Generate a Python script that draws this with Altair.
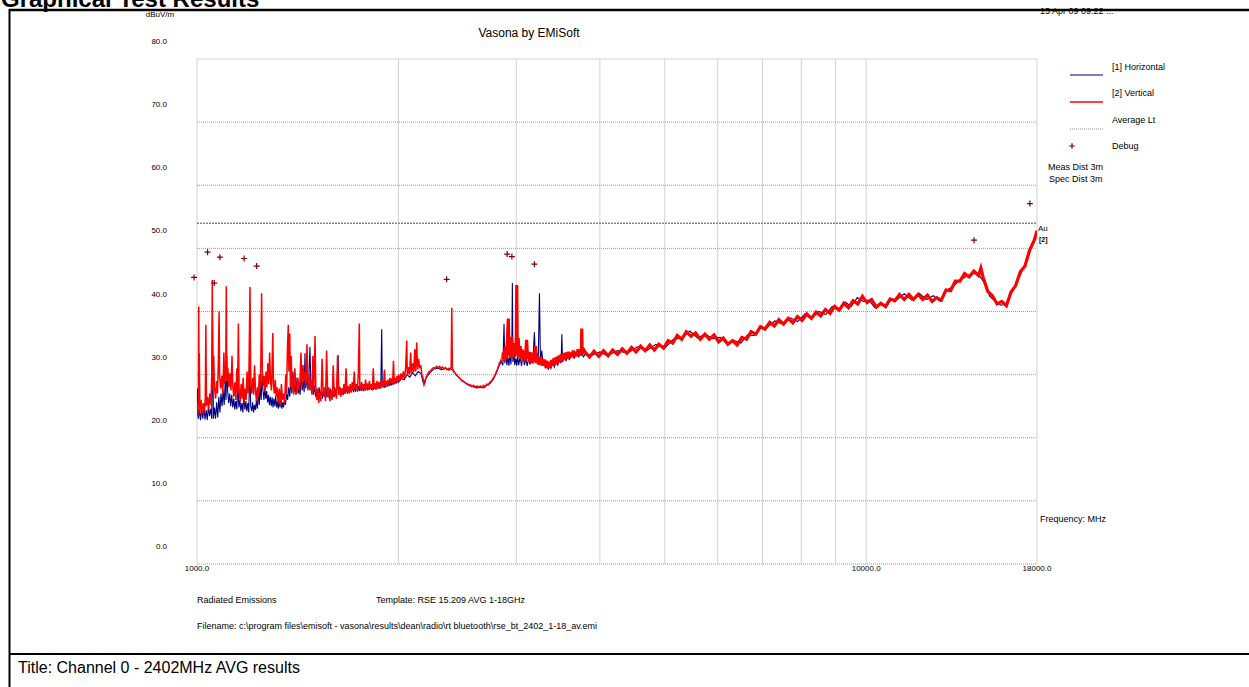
import altair as alt
import pandas as pd

# ---------------------------------------------------------------------------
# Radiated emission scan, levels in dBuV/m against frequency in MHz
# ---------------------------------------------------------------------------

# [1] Horizontal polarisation
horizontal_1_2ghz = [
    (1000, 25.0), (1002, 27.8), (1004, 23.0), (1008, 24.5), (1012, 22.8), (1016, 24.6),
    (1020, 23.0), (1024, 24.8), (1028, 22.9), (1032, 24.4), (1036, 22.8), (1040, 25.0),
    (1044, 23.4), (1048, 24.6), (1052, 23.0), (1055, 38.5), (1058, 23.0), (1062, 24.8),
    (1066, 23.0), (1070, 25.6), (1074, 23.2), (1078, 26.5), (1082, 24.0), (1086, 27.0),
    (1090, 25.0), (1094, 27.5), (1098, 25.2), (1102, 29.0), (1105, 26.0), (1108, 33.0),
    (1111, 27.5), (1115, 25.5), (1119, 27.0), (1123, 25.0), (1127, 26.8), (1131, 24.8),
    (1135, 26.2), (1139, 24.5), (1143, 25.8), (1147, 24.5), (1151, 28.5), (1155, 24.8),
    (1159, 26.0), (1163, 24.2), (1167, 25.5), (1171, 24.0), (1175, 27.0), (1179, 24.5),
    (1183, 25.8), (1187, 24.2), (1191, 25.5), (1195, 24.0), (1199, 31.5), (1203, 25.0),
    (1207, 24.2), (1211, 25.6), (1215, 24.0), (1219, 25.2), (1223, 24.4), (1227, 26.0),
    (1231, 24.6), (1235, 27.5), (1239, 25.2), (1243, 28.5), (1247, 26.0), (1251, 30.0),
    (1255, 27.5), (1259, 26.0), (1263, 28.0), (1267, 26.2), (1271, 27.4), (1275, 25.6),
    (1279, 26.8), (1283, 25.2), (1287, 26.5), (1291, 25.0), (1295, 26.4), (1299, 24.8),
    (1303, 26.2), (1307, 25.0), (1311, 26.6), (1315, 24.8), (1319, 25.8), (1323, 24.6),
    (1327, 26.0), (1331, 24.8), (1335, 26.4), (1339, 24.6), (1343, 25.6), (1347, 24.8),
    (1351, 26.0), (1356, 25.2), (1361, 27.0), (1366, 26.0), (1371, 28.0), (1376, 26.5),
    (1381, 29.0), (1386, 27.0), (1391, 30.5), (1396, 27.2), (1401, 28.5), (1406, 26.8),
    (1411, 29.5), (1416, 27.0), (1421, 28.0), (1426, 26.8), (1431, 30.5), (1436, 27.5),
    (1441, 29.0), (1446, 27.2), (1450, 33.4), (1454, 27.8), (1460, 29.5), (1465, 27.5),
    (1470, 30.0), (1475, 34.4), (1480, 27.8), (1486, 29.0), (1492, 26.8), (1498, 28.2),
    (1504, 26.5), (1510, 27.8), (1516, 26.2), (1522, 28.0), (1528, 26.5), (1534, 27.6),
    (1540, 26.2), (1546, 27.8), (1552, 26.5), (1558, 28.0), (1564, 26.4), (1570, 27.5),
    (1576, 26.2), (1582, 27.8), (1588, 26.4), (1594, 27.5), (1600, 26.5), (1606, 28.0),
    (1612, 26.6), (1618, 27.8), (1625, 33.1), (1630, 27.0), (1636, 28.0), (1642, 26.8),
    (1648, 27.8), (1654, 26.8), (1660, 28.0), (1666, 27.0), (1672, 28.2), (1678, 27.0),
    (1684, 28.0), (1690, 27.2), (1696, 28.2), (1702, 27.2), (1708, 28.4), (1714, 27.2),
    (1720, 28.0), (1726, 27.3), (1732, 28.4), (1738, 27.3), (1744, 28.2), (1750, 27.4),
    (1756, 28.4), (1762, 27.4), (1768, 28.2), (1774, 27.4), (1780, 28.3), (1786, 27.5),
    (1792, 28.4), (1798, 27.5), (1804, 28.2), (1810, 27.6), (1816, 28.5), (1822, 27.6),
    (1828, 28.3), (1834, 27.6), (1840, 28.4), (1846, 27.7), (1852, 28.6), (1858, 27.8),
    (1864, 28.4), (1870, 27.8), (1876, 28.5), (1882, 27.8), (1888, 37.2), (1892, 28.0),
    (1898, 28.6), (1904, 27.9), (1910, 28.6), (1916, 28.0), (1922, 28.8), (1928, 28.1),
    (1934, 28.9), (1940, 28.2), (1946, 28.9), (1952, 28.3), (1958, 29.0), (1964, 28.4),
    (1970, 29.1), (1976, 28.5), (1982, 29.2), (1988, 28.6), (1994, 29.3),
]
horizontal_2_4ghz = [
    (2000, 28.8), (2020, 29.4), (2040, 29.2), (2060, 30.0), (2080, 29.6), (2100, 30.3),
    (2120, 29.8), (2140, 30.5), (2160, 30.2), (2180, 28.6), (2200, 29.5), (2230, 30.3),
    (2260, 30.9), (2290, 31.0), (2320, 30.8), (2350, 31.0), (2380, 30.7), (2410, 30.9),
    (2440, 29.9), (2470, 29.4), (2500, 28.9), (2530, 28.5), (2560, 28.2), (2590, 28.1),
    (2620, 27.9), (2650, 28.0), (2680, 27.9), (2710, 28.3), (2740, 28.6), (2770, 29.2),
    (2800, 30.2), (2830, 31.5), (2850, 32.0), (2865, 31.5), (2876, 38.0), (2884, 31.8),
    (2895, 33.0), (2905, 31.5), (2915, 32.8), (2925, 31.4), (2935, 33.5), (2945, 31.6),
    (2955, 35.0), (2960, 44.5), (2965, 32.0), (2975, 33.5), (2985, 31.5), (2995, 32.6),
    (3005, 31.4), (3015, 33.0), (3025, 31.5), (3040, 32.8), (3055, 31.4), (3070, 33.2),
    (3085, 31.5), (3100, 32.5), (3115, 31.4), (3130, 32.6), (3145, 31.6), (3160, 33.0),
    (3175, 31.8), (3193, 36.7), (3205, 32.0), (3220, 33.5), (3235, 31.8), (3249, 42.9),
    (3260, 32.2), (3275, 33.8), (3290, 31.4), (3305, 32.0), (3320, 31.0), (3335, 31.8),
    (3350, 30.8), (3365, 31.6), (3380, 31.0), (3400, 32.0), (3420, 31.2), (3440, 32.2),
    (3460, 31.5), (3480, 32.4), (3500, 31.8), (3509, 36.4), (3518, 32.0), (3540, 32.8),
    (3560, 32.2), (3580, 33.0), (3600, 32.4), (3630, 33.2), (3660, 32.6), (3690, 33.4),
    (3720, 32.8), (3750, 33.5), (3780, 32.8),
]
horizontal_4_18ghz = [
    (3800, 33.2), (3900, 33.1), (4000, 33.6), (4100, 33.0), (4250, 33.8), (4400, 33.4),
    (4550, 34.4), (4700, 33.8), (4850, 34.8), (5000, 34.2), (5150, 35.6), (5300, 35.8),
    (5450, 36.9), (5600, 35.8), (5750, 36.4), (5900, 35.7), (6050, 35.9), (6200, 34.8),
    (6350, 35.4), (6500, 35.0), (6650, 36.3), (6800, 36.2), (6950, 37.6), (7100, 37.4),
    (7300, 38.5), (7500, 38.0), (7700, 39.0), (7900, 38.4), (8100, 39.6), (8300, 39.0),
    (8500, 40.0), (8700, 39.5), (8900, 40.8), (9100, 40.2), (9300, 41.5), (9500, 40.8),
    (9700, 42.2), (9900, 41.6), (10100, 41.8), (10300, 40.6), (10500, 41.2), (10700, 40.6),
    (10900, 42.0), (11100, 41.8), (11400, 42.8), (11700, 41.8), (12000, 42.9), (12300, 41.9),
    (12600, 42.5), (12900, 41.6), (13200, 43.4), (13500, 44.0), (13800, 45.0), (14100, 45.5),
    (14400, 46.0), (14700, 46.0), (15000, 44.6), (15300, 42.4), (15600, 41.6), (15900, 41.0),
    (16200, 41.2), (16500, 43.0), (16800, 44.6), (17100, 46.4), (17400, 48.2), (17700, 50.5),
    (18000, 52.6),
]

# [2] Vertical polarisation
vertical_1_2ghz = [
    (1000, 25.5), (1003, 23.5), (1005, 27.0), (1006, 40.8), (1007, 25.0), (1008, 33.4),
    (1010, 24.0), (1014, 26.0), (1018, 23.8), (1022, 25.5), (1026, 24.0), (1029, 26.5),
    (1031, 37.9), (1033, 25.0), (1037, 26.5), (1041, 24.5), (1045, 27.0), (1049, 25.2),
    (1052, 30.0), (1054, 45.0), (1056, 27.5), (1059, 33.0), (1062, 28.0), (1066, 26.2),
    (1070, 29.0), (1073, 27.0), (1076, 31.5), (1079, 40.0), (1081, 29.5), (1085, 27.8),
    (1089, 29.8), (1093, 27.0), (1097, 33.5), (1100, 28.5), (1104, 30.5), (1106, 44.0),
    (1108, 29.0), (1112, 31.0), (1116, 28.0), (1120, 30.2), (1124, 27.5), (1128, 33.0),
    (1131, 28.2), (1135, 26.5), (1139, 28.8), (1143, 26.0), (1147, 31.0), (1150, 27.2),
    (1153, 38.1), (1156, 27.5), (1160, 25.8), (1164, 28.5), (1168, 26.2), (1172, 29.5),
    (1176, 25.5), (1180, 27.8), (1184, 26.0), (1188, 30.5), (1192, 27.0), (1196, 31.0),
    (1200, 43.9), (1203, 28.5), (1207, 27.0), (1211, 29.5), (1215, 26.8), (1219, 31.5),
    (1223, 27.5), (1227, 25.8), (1231, 28.0), (1235, 26.5), (1239, 30.0), (1243, 27.8),
    (1246, 33.0), (1249, 42.9), (1252, 30.5), (1256, 28.2), (1260, 29.8), (1264, 27.2),
    (1268, 30.5), (1272, 28.0), (1276, 31.8), (1280, 28.5), (1284, 33.5), (1288, 29.0),
    (1292, 27.5), (1295, 31.0), (1298, 36.6), (1301, 28.5), (1305, 27.0), (1309, 29.2),
    (1313, 26.5), (1317, 28.0), (1322, 25.5), (1327, 27.8), (1332, 25.2), (1337, 28.5),
    (1342, 26.0), (1347, 27.0), (1352, 25.5), (1357, 30.0), (1361, 27.0), (1365, 34.0),
    (1369, 37.9), (1372, 30.5), (1376, 36.5), (1379, 28.0), (1383, 33.0), (1387, 27.5),
    (1391, 29.5), (1395, 26.8), (1400, 31.0), (1405, 28.5), (1410, 27.0), (1415, 29.5),
    (1420, 27.5), (1425, 28.8), (1430, 33.5), (1435, 28.0), (1440, 31.5), (1445, 29.0),
    (1450, 30.5), (1455, 28.5), (1460, 34.8), (1465, 28.0), (1470, 30.0), (1475, 27.5),
    (1480, 29.2), (1485, 26.8), (1490, 33.0), (1495, 27.5), (1501, 36.1), (1505, 28.0),
    (1510, 26.0), (1515, 27.8), (1520, 25.5), (1526, 27.2), (1532, 25.8), (1538, 32.5),
    (1544, 26.5), (1550, 28.0), (1556, 25.8), (1562, 33.8), (1568, 26.5), (1574, 28.0),
    (1580, 25.8), (1586, 27.5), (1592, 26.0), (1598, 31.5), (1604, 26.5), (1610, 27.8),
    (1616, 26.2), (1622, 33.0), (1628, 26.8), (1634, 28.0), (1640, 26.5), (1646, 27.8),
    (1652, 26.8), (1658, 28.5), (1664, 27.0), (1670, 31.0), (1676, 27.2), (1682, 28.2),
    (1688, 27.0), (1694, 28.5), (1700, 27.2), (1706, 28.8), (1712, 27.5), (1718, 30.5),
    (1724, 27.5), (1730, 28.5), (1736, 27.4), (1742, 30.0), (1748, 38.1), (1751, 28.0),
    (1756, 27.5), (1762, 28.8), (1768, 27.6), (1774, 28.5), (1780, 27.5), (1786, 29.2),
    (1792, 27.8), (1798, 28.6), (1804, 27.6), (1810, 29.0), (1816, 27.8), (1822, 28.5),
    (1828, 27.5), (1834, 31.0), (1840, 27.8), (1846, 28.6), (1852, 27.6), (1858, 29.0),
    (1864, 27.8), (1870, 28.8), (1876, 27.8), (1882, 29.2), (1888, 28.0), (1894, 28.8),
    (1900, 28.2), (1906, 30.8), (1912, 28.0), (1918, 29.0), (1924, 28.2), (1930, 29.2),
    (1936, 28.4), (1942, 29.5), (1948, 28.6), (1954, 29.4), (1960, 28.4), (1966, 32.2),
    (1972, 28.6), (1978, 29.5), (1984, 28.8), (1990, 29.8), (1996, 28.8),
]
vertical_2_3ghz = [
    (2002, 30.0), (2010, 29.0), (2018, 30.2), (2026, 29.2), (2034, 30.5), (2042, 29.4),
    (2050, 31.0), (2058, 35.4), (2062, 29.8), (2070, 31.2), (2078, 30.0), (2086, 33.5),
    (2092, 30.2), (2100, 31.8), (2108, 30.4), (2116, 34.0), (2122, 30.5), (2130, 35.1),
    (2136, 30.8), (2144, 32.5), (2152, 31.0), (2160, 31.5), (2168, 30.0), (2176, 29.5),
    (2184, 28.4), (2192, 28.8), (2200, 29.6), (2210, 30.0), (2220, 30.4), (2232, 30.6),
    (2244, 30.9), (2256, 31.1), (2268, 31.0), (2280, 31.3), (2292, 31.1), (2304, 31.3),
    (2316, 31.0), (2328, 31.2), (2340, 30.9), (2352, 31.1), (2364, 30.8), (2376, 31.0),
    (2388, 30.9), (2398, 31.2), (2403, 40.6), (2408, 31.0), (2416, 30.5), (2428, 30.3),
    (2440, 30.0), (2452, 29.8), (2464, 29.5), (2476, 29.3), (2488, 29.0), (2500, 29.0),
    (2512, 28.8), (2524, 28.6), (2536, 28.6), (2548, 28.3), (2560, 28.4), (2575, 28.1),
    (2590, 28.3), (2605, 28.0), (2620, 28.2), (2635, 28.0), (2650, 28.2), (2665, 28.0),
    (2680, 28.3), (2695, 28.1), (2710, 28.5), (2725, 28.4), (2740, 28.8), (2755, 29.0),
    (2770, 29.4), (2785, 29.8), (2800, 30.4), (2815, 31.0), (2830, 31.8), (2845, 32.3),
    (2860, 32.0),
]
vertical_3_4ghz = [
    (2862, 32.4), (2870, 33.5), (2880, 32.2), (2890, 34.5), (2900, 32.5), (2910, 35.5),
    (2919, 38.9), (2926, 33.0), (2935, 34.8), (2944, 32.6), (2952, 36.0), (2960, 33.2),
    (2970, 35.0), (2980, 32.8), (2990, 34.2), (2998, 33.0), (3005, 44.2), (3010, 33.5),
    (3020, 35.8), (3030, 32.8), (3040, 34.5), (3050, 32.5), (3060, 34.0), (3072, 32.4),
    (3084, 33.8), (3096, 32.2), (3108, 35.5), (3120, 32.5), (3132, 33.6), (3144, 32.0),
    (3156, 33.5), (3168, 31.8), (3180, 33.2), (3192, 32.0), (3204, 34.5), (3216, 31.8),
    (3228, 33.0), (3240, 31.6), (3252, 32.8), (3264, 31.5), (3276, 32.6), (3290, 31.4),
    (3304, 32.4), (3318, 31.2), (3332, 32.2), (3346, 31.0), (3360, 32.0), (3374, 31.2),
    (3388, 32.3), (3402, 31.4), (3416, 32.6), (3430, 31.6), (3444, 32.8), (3458, 31.8),
    (3472, 33.0), (3486, 32.0), (3500, 33.2), (3515, 32.2), (3530, 33.4), (3545, 32.4),
    (3560, 33.5), (3575, 32.5), (3590, 33.6), (3605, 32.6), (3620, 33.5), (3635, 32.8),
    (3650, 33.8), (3665, 32.8), (3680, 33.6), (3695, 32.9), (3710, 34.0), (3725, 33.0),
    (3740, 33.8), (3752, 33.0), (3758, 37.3), (3764, 33.2), (3780, 34.0),
]
vertical_4_18ghz = [
    (3800, 33.6), (3860, 32.8), (3920, 33.7), (3985, 32.9), (4050, 33.8), (4115, 33.0),
    (4180, 33.9), (4250, 33.2), (4320, 34.1), (4390, 33.4), (4460, 34.3), (4530, 33.6),
    (4600, 34.5), (4675, 33.8), (4750, 34.7), (4825, 33.9), (4900, 34.8), (4980, 34.2),
    (5060, 35.4), (5140, 35.0), (5220, 36.2), (5300, 35.6), (5385, 36.8), (5470, 36.1),
    (5560, 36.6), (5650, 35.6), (5740, 36.4), (5830, 35.6), (5925, 36.3), (6020, 35.2),
    (6115, 35.8), (6215, 34.8), (6315, 35.4), (6415, 34.7), (6520, 35.9), (6625, 35.6),
    (6730, 36.8), (6840, 36.4), (6950, 37.6), (7060, 37.2), (7175, 38.3), (7290, 37.7),
    (7405, 38.7), (7525, 38.0), (7645, 38.9), (7770, 38.2), (7895, 39.2), (8020, 38.6),
    (8150, 39.6), (8280, 38.9), (8415, 39.9), (8550, 39.3), (8690, 40.3), (8830, 39.7),
    (8970, 40.8), (9115, 40.2), (9260, 41.3), (9410, 40.6), (9560, 41.7), (9715, 41.2),
    (9870, 42.4), (10030, 41.4), (10190, 41.9), (10355, 40.7), (10520, 41.3), (10690, 40.8),
    (10860, 42.0), (11035, 41.7), (11215, 42.7), (11395, 41.9), (11580, 42.7), (11765, 41.9),
    (11955, 42.7), (12150, 41.9), (12345, 42.6), (12545, 41.6), (12745, 42.2), (12950, 41.8),
    (13160, 43.4), (13370, 43.3), (13585, 44.8), (13805, 44.8), (14030, 46.0), (14255, 45.5),
    (14485, 46.4), (14720, 45.7), (14840, 46.9), (14955, 45.4), (15195, 43.2), (15440, 42.5),
    (15690, 41.2), (15945, 41.6), (16200, 40.9), (16460, 43.1), (16725, 44.1), (16995, 46.3),
    (17270, 47.2), (17545, 49.7), (17830, 51.3), (18000, 52.8),
]

# Debug markers (peak search results)
debug_freq = [990, 1037, 1061, 1082, 1176, 1228, 2361, 2907, 2955, 3193, 14495, 17565]
debug_level = [45.4, 49.4, 44.5, 48.6, 48.4, 47.2, 45.1, 49.1, 48.7, 47.5, 51.3, 57.1]

# Average limit line
average_limit = 54.0

# Grid and tick positions
freq_grid = [1000, 2000, 3000, 4000, 5000, 6000, 7000, 8000, 9000, 10000, 18000]
level_grid = [0, 10, 20, 30, 40, 50, 60, 70]
level_labels = [0, 10, 20, 30, 40, 50, 60, 70, 80]
freq_labels = [1000, 10000, 18000]

# ---------------------------------------------------------------------------
FONT = "Liberation Sans"
LEFT, TOP, W, H = 197, 59, 840, 505
NAVY = "#000080"
RED = "#ff0000"
DEBUG = "#800000"

x_scale = alt.Scale(type="log", domain=[1000, 18000], nice=False)
y_scale = alt.Scale(domain=[0, 80], nice=False, zero=False)


def X(field="freq"):
    return alt.X(f"{field}:Q", scale=x_scale, axis=None)


def Y(field="level"):
    return alt.Y(f"{field}:Q", scale=y_scale, axis=None)


def trace(*segments):
    rows = [pt for seg in segments for pt in seg]
    return pd.DataFrame(rows, columns=["freq", "level"])


one = pd.DataFrame({"k": [0]})


def note(text, px, py, size=9, align="left", weight="normal", baseline="middle"):
    return alt.Chart(one).mark_text(
        text=text, align=align, baseline=baseline, fontSize=size,
        fontWeight=weight, font=FONT, color="black",
    ).encode(x=alt.value(px - LEFT), y=alt.value(py - TOP))


def hline(px1, px2, py, color, width, dash=None):
    kw = dict(color=color, strokeWidth=width)
    if dash:
        kw["strokeDash"] = dash
    return alt.Chart(one).mark_rule(**kw).encode(
        x=alt.value(px1 - LEFT), x2=alt.value(px2 - LEFT), y=alt.value(py - TOP)
    )


def vline(px, py1, py2, color, width):
    return alt.Chart(one).mark_rule(color=color, strokeWidth=width).encode(
        x=alt.value(px - LEFT), y=alt.value(py1 - TOP), y2=alt.value(py2 - TOP)
    )


plus_shape = "M-1,0L1,0M0,-1L0,1"

# grid
v_grid = alt.Chart(pd.DataFrame({"freq": freq_grid})).mark_rule(
    color="#d2d2d2", strokeWidth=1
).encode(x=X(), y=alt.value(0), y2=alt.value(H))

h_grid = alt.Chart(pd.DataFrame({"level": level_grid})).mark_rule(
    color="#9a9a9a", strokeWidth=1, strokeDash=[1, 1]
).encode(y=Y(), x=alt.value(0), x2=alt.value(W))

top_frame = alt.Chart(pd.DataFrame({"level": [80]})).mark_rule(
    color="#d2d2d2", strokeWidth=1
).encode(y=Y(), x=alt.value(0), x2=alt.value(W))

limit = alt.Chart(pd.DataFrame({"level": [average_limit]})).mark_rule(
    color="#858585", strokeWidth=1.5, strokeDash=[2, 1]
).encode(y=Y(), x=alt.value(0), x2=alt.value(W))

# axis labels
y_labels = alt.Chart(pd.DataFrame({"level": level_labels})).transform_calculate(
    lbl="format(datum.level, '.1f')"
).mark_text(align="right", baseline="middle", dy=-17, fontSize=8, font=FONT, color="black").encode(
    y=Y(), x=alt.value(-30), text="lbl:N"
)

x_labels = alt.Chart(pd.DataFrame({"freq": freq_labels})).transform_calculate(
    lbl="format(datum.freq, '.1f')"
).mark_text(align="center", baseline="middle", fontSize=8, font=FONT, color="black").encode(
    x=X(), y=alt.value(569 - TOP), text="lbl:N"
)

# traces
horizontal = alt.Chart(trace(horizontal_1_2ghz, horizontal_2_4ghz, horizontal_4_18ghz)).mark_line(
    color=NAVY, strokeWidth=1.1, clip=True
).encode(x=X(), y=Y())

vertical_low = alt.Chart(trace(vertical_1_2ghz, vertical_2_3ghz)).mark_line(
    color=RED, strokeWidth=1.5, clip=True
).encode(x=X(), y=Y())

vertical_high = alt.Chart(trace(vertical_3_4ghz, vertical_4_18ghz)).mark_line(
    color=RED, strokeWidth=3.2, clip=True
).encode(x=X(), y=Y())

debug = alt.Chart(pd.DataFrame({"freq": debug_freq, "level": debug_level})).mark_point(
    shape=plus_shape, size=36, strokeWidth=1.2, color=DEBUG, filled=False, opacity=1
).encode(x=X(), y=Y())

# legend
legend = [
    hline(1070, 1103, 75, NAVY, 1.2),
    hline(1070, 1103, 102, RED, 1.5),
    hline(1070, 1103, 129, "#8a8a8a", 1, [1, 1]),
    alt.Chart(one).mark_point(
        shape=plus_shape, size=30, strokeWidth=1.2, color=DEBUG, filled=False, opacity=1
    ).encode(x=alt.value(1072 - LEFT), y=alt.value(146 - TOP)),
    note("[1] Horizontal", 1112, 67),
    note("[2] Vertical", 1112, 93),
    note("Average Lt", 1112, 120),
    note("Debug", 1112, 146),
    note("Meas Dist 3m", 1048, 167),
    note("Spec Dist 3m", 1049, 179),
]

texts = [
    note("Graphical Test Results", 1, 7, size=24, weight="bold", baseline="alphabetic"),
    note("15 Apr 09 09:22 ...", 1040, 10.5, size=9),
    note("Vasona by EMiSoft", 529, 33, size=12, align="center"),
    note("dBuV/m", 160, 15, size=8, align="center"),
    note("Frequency: MHz", 1040, 519),
    note("Au", 1038, 229, size=8),
    note("[2]", 1039, 240, size=7, weight="bold"),
    note("Radiated Emissions", 197, 600),
    note("Template: RSE 15.209 AVG 1-18GHz", 376, 600),
    note(r"Filename: c:\program files\emisoft - vasona\results\dean\radio\rt bluetooth\rse_bt_2402_1-18_av.emi", 197, 626),
    note("Title: Channel 0 - 2402MHz AVG results", 18, 668, size=16),
]

frame = [
    hline(9, 1249, 10, "black", 2.5),
    vline(9.5, 9, 687, "black", 2),
    hline(9, 1249, 654, "black", 2),
]

chart = alt.layer(
    v_grid, h_grid, top_frame, limit,
    horizontal, vertical_low, vertical_high, debug,
    y_labels, x_labels,
    *legend, *texts, *frame,
).properties(
    width=W,
    height=H,
    padding={"left": LEFT, "top": TOP, "right": 1249 - LEFT - W, "bottom": 687 - TOP - H},
    autosize=alt.AutoSizeParams(type="none"),
    background="white",
).configure_view(strokeWidth=0)

chart.save("out.html", embed_options={"renderer": "svg", "actions": False})
